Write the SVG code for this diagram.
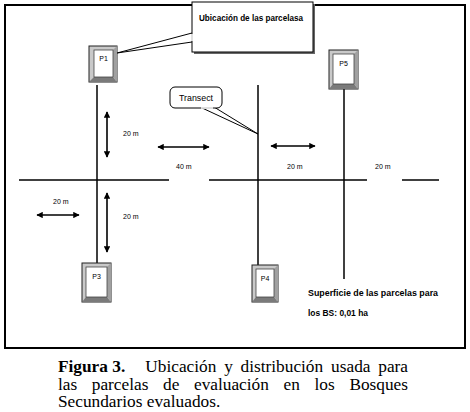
<svg xmlns="http://www.w3.org/2000/svg" width="470" height="412" viewBox="0 0 470 412">
<defs>
<marker id="ah" viewBox="0 0 10 10" refX="9" refY="5" markerWidth="4" markerHeight="4" orient="auto-start-reverse" markerUnits="strokeWidth">
<path d="M0,0 L10,5 L0,10 z" fill="#000"/>
</marker>
</defs>
<style>
.ln{stroke:#000;stroke-width:1.5;fill:none}
.ar{stroke:#000;stroke-width:1.6;fill:none;marker-start:url(#ah);marker-end:url(#ah)}
.lbl{font-family:"Liberation Sans",Arial,sans-serif;font-size:7px;fill:#000}
.pl{font-family:"Liberation Sans",Arial,sans-serif;font-size:7px;fill:#000;text-anchor:middle}
.bx{fill:#c9c9c9;stroke:#222;stroke-width:1}
.in{fill:#fff;stroke:#444;stroke-width:0.8}
.sh{fill:#7a7a7a}
.cap{font-family:"Liberation Serif","Times New Roman",serif;font-size:17.3px;fill:#000}
.note{font-family:"Liberation Sans",Arial,sans-serif;font-size:9.5px;font-weight:bold;fill:#000}
</style>
<rect width="470" height="412" fill="#fff"/>
<rect x="5" y="5" width="460" height="343" fill="none" stroke="#000" stroke-width="2"/>

<g id="connectors">
<line class="ln" x1="97" y1="85" x2="97" y2="263"/>
<line class="ln" x1="258" y1="85" x2="258" y2="265"/>
<line class="ln" x1="344" y1="89" x2="344" y2="279"/>
<line class="ln" x1="19" y1="180" x2="169" y2="180"/>
<line class="ln" x1="209" y1="180" x2="367" y2="180"/>
<line class="ln" x1="402" y1="180" x2="439" y2="180"/>
<line class="ar" x1="107" y1="112" x2="107" y2="157"/>
<line class="ar" x1="107" y1="193" x2="107" y2="252"/>
<line class="ar" x1="158" y1="147" x2="209" y2="147"/>
<line class="ar" x1="271" y1="146" x2="315" y2="146"/>
<line class="ar" x1="37" y1="215" x2="79" y2="215"/>
</g>

<g id="labels">
<text class="lbl" x="123" y="136">20 m</text>
<text class="lbl" x="123" y="219">20 m</text>
<text class="lbl" x="53" y="204">20 m</text>
<text class="lbl" x="176" y="169">40 m</text>
<text class="lbl" x="287" y="169">20 m</text>
<text class="lbl" x="375" y="169">20 m</text>
</g>

<g id="callout-ubicacion">
<path d="M192,33 L117,53 L192,42" fill="#fff" stroke="#000" stroke-width="1"/>
<rect x="194" y="4" width="121" height="50" fill="#666"/>
<rect x="192" y="2" width="121" height="50" fill="#fff" stroke="#000" stroke-width="1"/>
<line x1="192" y1="34" x2="192" y2="41" stroke="#fff" stroke-width="1.5"/>
<text class="note" x="199" y="21" textLength="104" lengthAdjust="spacingAndGlyphs">Ubicación de las parcelasa</text>
</g>

<g id="callout-transect">
<path d="M200,107 L258,134 L214,107" fill="#fff" stroke="#000" stroke-width="1"/>
<rect x="170" y="87" width="52" height="21" rx="5" fill="#fff" stroke="#000" stroke-width="1"/>
<line x1="201" y1="108" x2="213" y2="108" stroke="#fff" stroke-width="1.5"/>
<text x="196" y="101" text-anchor="middle" font-family="Liberation Sans, Arial, sans-serif" font-size="9" textLength="34" lengthAdjust="spacingAndGlyphs">Transect</text>
</g>

<g id="P1">
<rect class="bx" x="89" y="46" width="28" height="36"/>
<polygon class="sh" points="89,82 117,82 113,77 94,77"/>
<polygon fill="#a0a0a0" points="117,46 117,82 113,77 113,50"/>
<rect class="in" x="94" y="50" width="19" height="27"/>
<text class="pl" x="103.5" y="61">P1</text>
</g>

<g id="P5">
<rect class="bx" x="329" y="50" width="29" height="39"/>
<polygon class="sh" points="329,89 358,89 354,84 333,84"/>
<polygon fill="#a0a0a0" points="358,50 358,89 354,84 354,54"/>
<rect class="in" x="333" y="54" width="21" height="30"/>
<text class="pl" x="343.5" y="66">P5</text>
</g>

<g id="P3">
<rect class="bx" x="82" y="263" width="29" height="39"/>
<polygon class="sh" points="82,302 111,302 107,297 86,297"/>
<polygon fill="#a0a0a0" points="111,263 111,302 107,297 107,267"/>
<rect class="in" x="86" y="267" width="21" height="30"/>
<text class="pl" x="96.5" y="279">P3</text>
</g>

<g id="P4">
<rect class="bx" x="252" y="265" width="26" height="37"/>
<polygon class="sh" points="252,302 278,302 274,297 256,297"/>
<polygon fill="#a0a0a0" points="278,265 278,302 274,297 274,269"/>
<rect class="in" x="256" y="269" width="18" height="28"/>
<text class="pl" x="265" y="281">P4</text>
</g>

<g id="superficie">
<text class="note" x="308" y="296" textLength="130" lengthAdjust="spacingAndGlyphs">Superficie de las parcelas para</text>
<text class="note" x="308" y="316" textLength="60" lengthAdjust="spacingAndGlyphs">los BS: 0,01  ha</text>
</g>

<g id="caption">
<text class="cap" x="58" y="372" font-weight="bold">Figura 3.</text>
<text class="cap" x="145.3" y="372">Ubicación</text>
<text class="cap" x="224.2" y="372">y</text>
<text class="cap" x="240.6" y="372">distribución</text>
<text class="cap" x="331.1" y="372">usada</text>
<text class="cap" x="408" y="372" text-anchor="end">para</text>
<text class="cap" x="58" y="389.5">las</text>
<text class="cap" x="91.8" y="389.5">parcelas</text>
<text class="cap" x="163.1" y="389.5">de</text>
<text class="cap" x="194" y="389.5">evaluación</text>
<text class="cap" x="283.6" y="389.5">en</text>
<text class="cap" x="314.5" y="389.5">los</text>
<text class="cap" x="408" y="389.5" text-anchor="end">Bosques</text>
<text class="cap" x="58" y="407">Secundarios evaluados.</text>
</g>
</svg>
